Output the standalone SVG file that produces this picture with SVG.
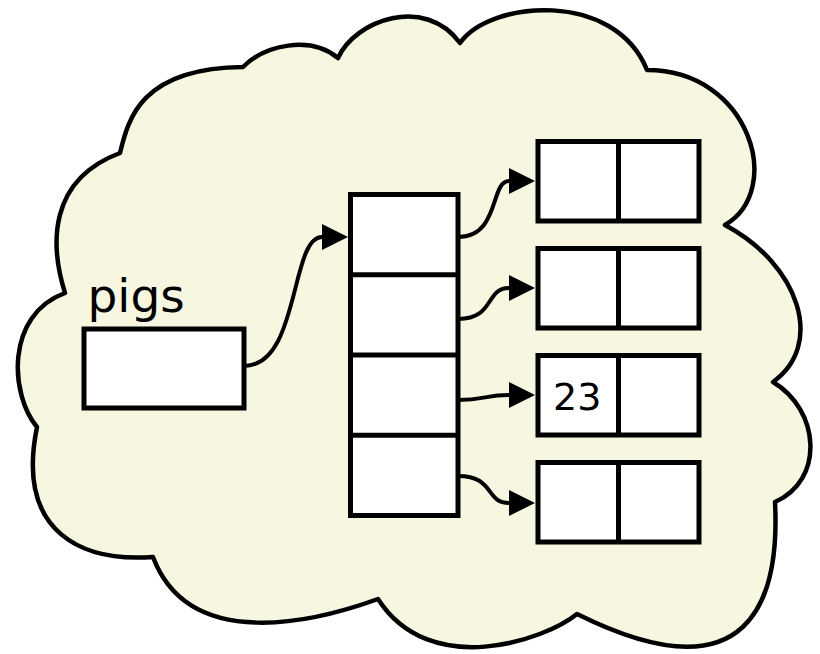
<svg xmlns="http://www.w3.org/2000/svg" width="820" height="654" viewBox="0 0 820 654">
  <style>
    .cloud { fill: #f6f6e1; stroke: #000; stroke-width: 4.5; stroke-linejoin: round; }
    .cell { fill: #fff; stroke: #000; stroke-width: 5; }
    .div { stroke: #000; stroke-width: 5; fill: none; }
    .conn { fill: none; stroke: #000; stroke-width: 4; }
    .lbl { font-family: "DejaVu Sans", "Liberation Sans", sans-serif; fill: #000; }
  </style>
  <defs>
    <marker id="arrow" viewBox="0 0 26 26" refX="0" refY="13" markerWidth="26" markerHeight="26" markerUnits="userSpaceOnUse" orient="auto">
      <path d="M0,0 L26,13 L0,26 z" fill="#000"/>
    </marker>
  </defs>

  <g id="cloud">
    <path class="cloud" d="M65,293 C50,245 48,180 120,153 C128,120 140,68 243,67 C265,45 310,35 338,58 C355,20 425,-5 460,43 C490,0 615,-10 647,70 C750,70 785,190 725,225 C800,265 825,345 773,382 C820,410 825,480 775,502 C780,600 750,700 577,614 C545,640 430,680 378,599 C320,620 190,655 153,557 C85,562 15,535 37,427 C10,395 5,315 65,293 Z"/>
  </g>

  <g id="pigs">
    <text class="lbl" x="87.5" y="312" font-size="47">pigs</text>
    <rect class="cell" x="84" y="329" width="160" height="79"/>
  </g>

  <g id="list">
    <rect class="cell" x="350.5" y="194.5" width="107.5" height="321"/>
    <line class="div" x1="350.5" y1="274.75" x2="458" y2="274.75"/>
    <line class="div" x1="350.5" y1="355" x2="458" y2="355"/>
    <line class="div" x1="350.5" y1="435.25" x2="458" y2="435.25"/>
  </g>

  <g id="pair1">
    <rect class="cell" x="538" y="141.5" width="161" height="79.5"/>
    <line class="div" x1="618.5" y1="141.5" x2="618.5" y2="221"/>
  </g>
  <g id="pair2">
    <rect class="cell" x="538" y="248.5" width="161" height="79.5"/>
    <line class="div" x1="618.5" y1="248.5" x2="618.5" y2="328"/>
  </g>
  <g id="pair3">
    <rect class="cell" x="538" y="355.5" width="161" height="79.5"/>
    <line class="div" x1="618.5" y1="355.5" x2="618.5" y2="435"/>
    <text class="lbl" x="553" y="410" font-size="38">23</text>
  </g>
  <g id="pair4">
    <rect class="cell" x="538" y="462.5" width="161" height="79.5"/>
    <line class="div" x1="618.5" y1="462.5" x2="618.5" y2="542"/>
  </g>

  <g id="connectors">
    <path class="conn" marker-end="url(#arrow)" d="M244,366 C300,366 290,237 322,237"/>
    <path class="conn" marker-end="url(#arrow)" d="M458,237 C500,237 490,181 509,181"/>
    <path class="conn" marker-end="url(#arrow)" d="M458,319 C495,319 485,288 509,288"/>
    <path class="conn" marker-end="url(#arrow)" d="M458,400 C485,400 485,395 509,395"/>
    <path class="conn" marker-end="url(#arrow)" d="M458,476 C495,476 485,503 509,503"/>
  </g>
</svg>
